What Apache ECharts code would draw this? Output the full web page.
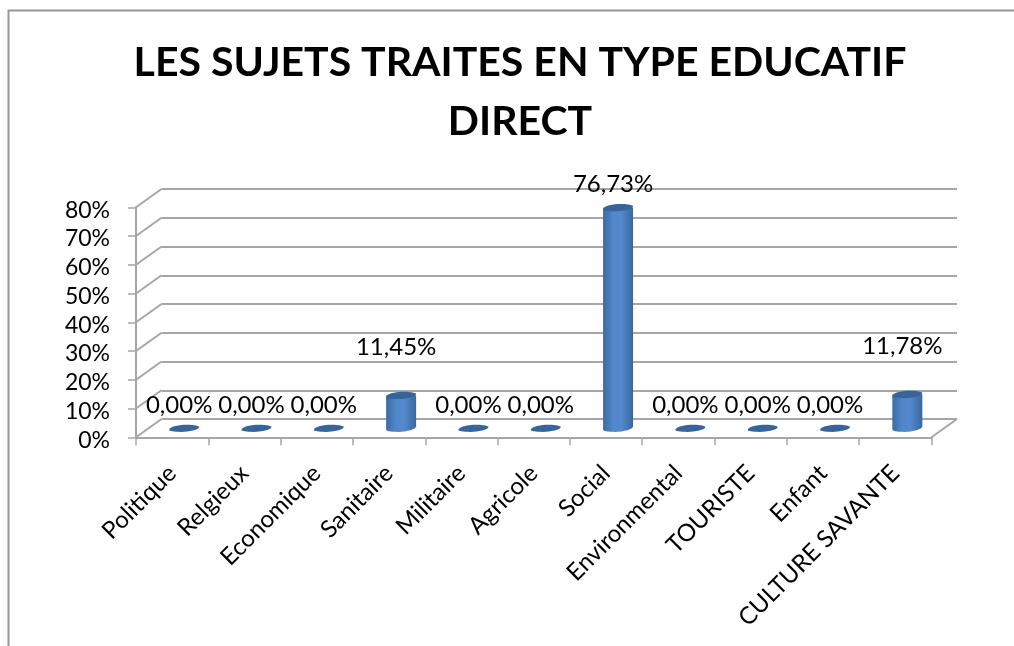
<!DOCTYPE html>
<html><head><meta charset="utf-8">
<style>html,body{margin:0;padding:0;background:#fff}#c{width:1014px;height:646px}</style>
<script src="https://cdn.jsdelivr.net/npm/echarts@6/dist/echarts.min.js"></script>
</head><body><div id="c"></div>
<script>
const titleLines = ['LES SUJETS TRAITES EN TYPE EDUCATIF', 'DIRECT'];
const categories = ['Politique','Relgieux','Economique','Sanitaire','Militaire','Agricole','Social','Environmental','TOURISTE','Enfant','CULTURE SAVANTE'];
const values = [0,0,0,11.45,0,0,76.73,0,0,0,11.78];
const valueLabels = ['0,00%','0,00%','0,00%','11,45%','0,00%','0,00%','76,73%','0,00%','0,00%','0,00%','11,78%'];
const valueTicks = [0,10,20,30,40,50,60,70,80];

const FONT = 'Lato';
const DX = 25.5, DY = -18.3, BDX = 12, BDY = -9, RX = 15, RY = 3.6;
const chart = echarts.init(document.getElementById('c'), null, {renderer:'canvas'});
const bodyGrad = new echarts.graphic.LinearGradient(0,0,1,0,[
  {offset:0,color:'#3A6BA3'},{offset:0.35,color:'#5288CB'},{offset:0.6,color:'#5389CC'},{offset:1,color:'#38689F'}]);

function ellipsePath(cx,cy){
  return `M${cx-RX} ${cy+RY*0.5}C${cx-RX} ${cy-RY*0.6} ${cx-RX*0.3} ${cy-RY} ${cx+RX*0.2} ${cy-RY}C${cx+RX*0.7} ${cy-RY} ${cx+RX} ${cy-RY*0.6} ${cx+RX} ${cy-RY*0.4}C${cx+RX} ${cy+RY*0.5} ${cx+RX*0.3} ${cy+RY} ${cx-RX*0.2} ${cy+RY}C${cx-RX*0.7} ${cy+RY} ${cx-RX} ${cy+RY*0.8} ${cx-RX} ${cy+RY*0.5}Z`;
}

chart.setOption({
  animation:false,
  backgroundColor:'#fff',
  title:{
    text:titleLines.join('\n'), left:515, top:28, textAlign:'center',
    textStyle:{fontFamily:FONT,fontWeight:'bold',fontSize:41,lineHeight:59,color:'#000'}
  },
  graphic:[{type:'polyline',silent:true,z:-1,shape:{points:[[8.5,646],[8.5,10.5],[1014,10.5]]},style:{stroke:'#969696',lineWidth:2,fill:null}}],
  grid:[
    {left:136,right:1014-931.5,top:207.3,bottom:646-437.3},
    {left:136+DX,right:1014-931.5-DX,top:207.3+DY,bottom:646-437.3-DY}
  ],
  xAxis:[
    {type:'category',gridIndex:0,data:categories,boundaryGap:true,
     axisLine:{show:true,lineStyle:{color:'#A6A6A6',width:2}},
     axisTick:{show:true,alignWithLabel:false,length:8,lineStyle:{color:'#A6A6A6',width:1.5}},
     axisLabel:{interval:0,rotate:45,fontFamily:FONT,fontSize:24,color:'#000',margin:32},splitLine:{show:false}},
    {type:'category',gridIndex:1,data:categories,show:false}
  ],
  yAxis:[
    {type:'value',gridIndex:0,min:0,max:80,interval:10,
     axisLine:{show:true,lineStyle:{color:'#A6A6A6',width:2}},
     axisTick:{show:true,length:8,lineStyle:{color:'#A6A6A6',width:1.5}},
     axisLabel:{fontFamily:FONT,fontSize:23,color:'#000',margin:26,verticalAlign:'top',lineHeight:6,formatter:'{value}%'},splitLine:{show:false}},
    {type:'value',gridIndex:1,min:0,max:80,interval:10,
     axisLine:{show:false},axisTick:{show:false},axisLabel:{show:false},
     splitLine:{show:true,lineStyle:{color:'#A6A6A6',width:2}}}
  ],
  series:[
    {type:'custom',name:'side',xAxisIndex:0,yAxisIndex:0,z:1,silent:true,
     data:valueTicks.map(v=>[0,v]),
     renderItem(p,api){
       const c=api.coord([0,api.value(1)]);
       const x=p.coordSys.x, y=c[1];
       const style={stroke:'#A6A6A6',lineWidth:2,fill:null};
       const kids=[{type:'line',shape:{x1:x,y1:y,x2:x+DX,y2:y+DY},style}];
       if(api.value(1)===0){
         const xr=p.coordSys.x+p.coordSys.width;
         kids.push({type:'line',shape:{x1:xr,y1:y,x2:xr+DX,y2:y+DY},style});
       }
       return {type:'group',children:kids};
     }},
    {type:'custom',name:'Sujets',xAxisIndex:0,yAxisIndex:0,z:3,
     data:values.map((v,i)=>[i,v]),
     renderItem(p,api){
       const i=api.value(0), v=api.value(1);
       const b=api.coord([i,0]), t=api.coord([i,v]);
       const cx=b[0]+BDX, by=b[1]+BDY, ty=t[1]+BDY;
       const kids=[];
       if(v>0){
         kids.push({type:'path',shape:{pathData:`M${cx-RX} ${ty}L${cx+RX} ${ty}L${cx+RX} ${by-2}C${cx+RX} ${by+1} ${cx+RX*0.4} ${by+RY} ${cx-RX*0.2} ${by+RY}C${cx-RX*0.7} ${by+RY} ${cx-RX} ${by+RY*0.8} ${cx-RX} ${by+1}Z`},style:{fill:bodyGrad}});
       }
       kids.push({type:'path',shape:{pathData:ellipsePath(cx,ty)},style:{fill:'#37659A'}});
       return {type:'group',children:kids};
     }},
    {type:'custom',name:'labels',xAxisIndex:0,yAxisIndex:0,z:4,silent:true,
     data:values.map((v,i)=>[i,v]),
     renderItem(p,api){
       const i=api.value(0), v=api.value(1);
       const t=api.coord([i,v]);
       const small=v>5&&v<20;
       return {type:'text',style:{text:valueLabels[i],x:t[0]+7,y:t[1]+BDY-(small?48:23),align:'center',verticalAlign:'middle',font:`24px ${FONT}`,fill:'#000'}};
     }}
  ]
});
</script></body></html>
